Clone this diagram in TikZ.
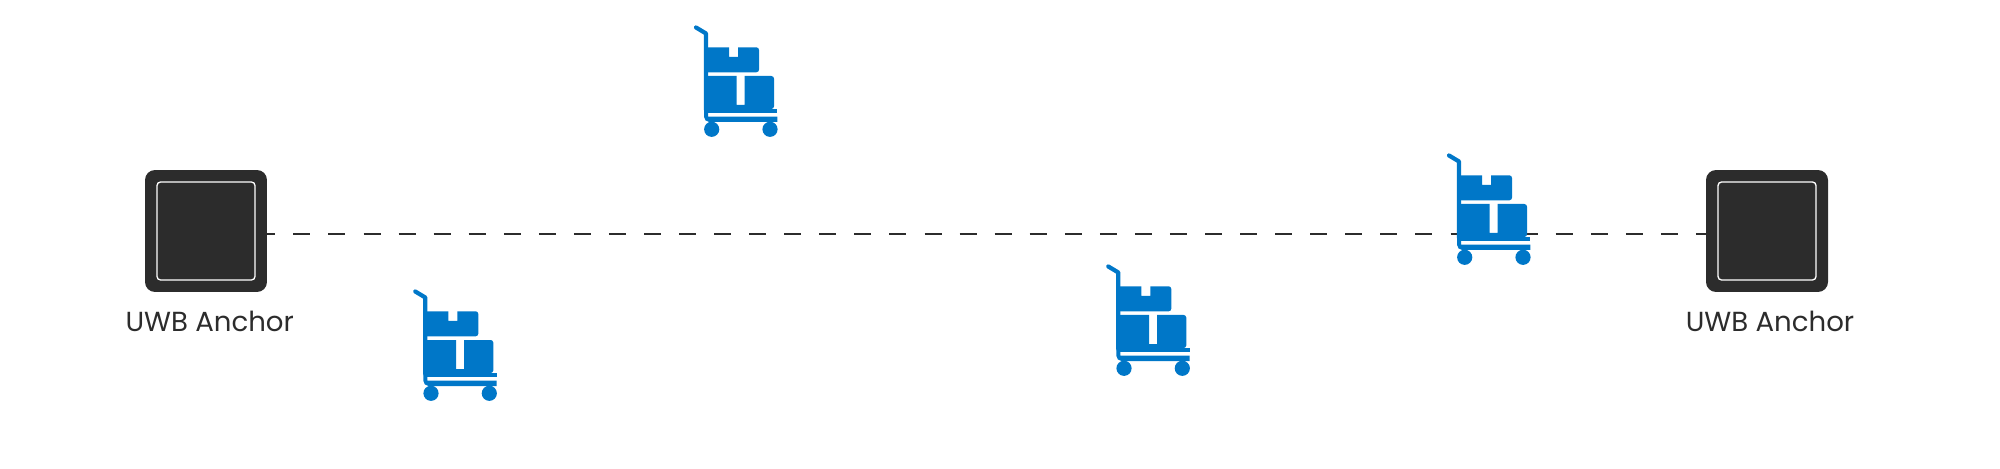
\documentclass[tikz,border=0pt]{standalone}
\usepackage{fontspec}
\setmainfont{Poppins}
\definecolor{cartblue}{HTML}{0077C8}
\definecolor{anchordark}{HTML}{2C2C2C}
\tikzset{
  cart/.pic={
    \draw[cartblue,line width=2.4pt,line join=round,line cap=round] (16,17.5) -- (26,23.5) -- (26,100);
    \fill[cartblue] (24,95) [rounded corners=3pt] -- (24,112) [sharp corners] -- (97.3,112) -- (97.3,106.7) -- (28,106.7) -- (28,95) -- cycle;
    \fill[cartblue] (26,98.7) rectangle (97.3,103.3);
    \fill[cartblue] (26,37.3) -- (49,37.3) -- (49,47) -- (58,47) -- (58,37.3) [rounded corners=1.5pt] -- (79,37.3) -- (79,62.3) [sharp corners] -- (26,62.3) -- cycle;
    \fill[cartblue] (26,66) -- (56.7,66) -- (56.7,95) -- (64.7,95) -- (64.7,66) [rounded corners=1.5pt] -- (94,66) -- (94,99) [sharp corners] -- (26,99) -- cycle;
    \fill[cartblue] (31.7,119.3) circle [radius=.152cm];
    \fill[cartblue] (90,119.3) circle [radius=.152cm];
  },
  anchorbox/.style={draw=none,fill=anchordark,rounded corners=.2cm,minimum size=2.44cm,inner sep=0},
  anchorface/.style={draw=white,line width=.75pt,fill=anchordark,rounded corners=.07cm,minimum size=1.96cm,inner sep=0},
  anchorlabel/.style={anchor=base,text=anchordark,font=\fontsize{15.7}{19}\selectfont,inner sep=0},
}
\begin{document}
\begin{tikzpicture}
  [x=.02cm,y=-.02cm]
  \useasboundingbox (0,0) rectangle (2000,469);
  \node[anchorbox] (boxL) at (206,231) {};
  \node[anchorbox] (boxR) at (1767,231) {};
  \node[anchorface] (faceL) at (boxL) {};
  \node[anchorface] (faceR) at (boxR) {};
  \node[anchorlabel] (labelL) at (209.7,331.7) {UWB Anchor};
  \node[anchorlabel] (labelR) at (1770,331.7) {UWB Anchor};

  \draw[anchordark,line width=1.13pt,dash pattern=on .34cm off .3614cm,dash phase=.18cm]
    ([yshift=-.06cm]boxL.east) -- ([yshift=-.06cm]boxR.west);

  \foreach \cx/\cy in {680/10,399.3/274,1092.3/249,1433/138}
    \pic at (\cx,\cy) {cart};
\end{tikzpicture}
\end{document}
